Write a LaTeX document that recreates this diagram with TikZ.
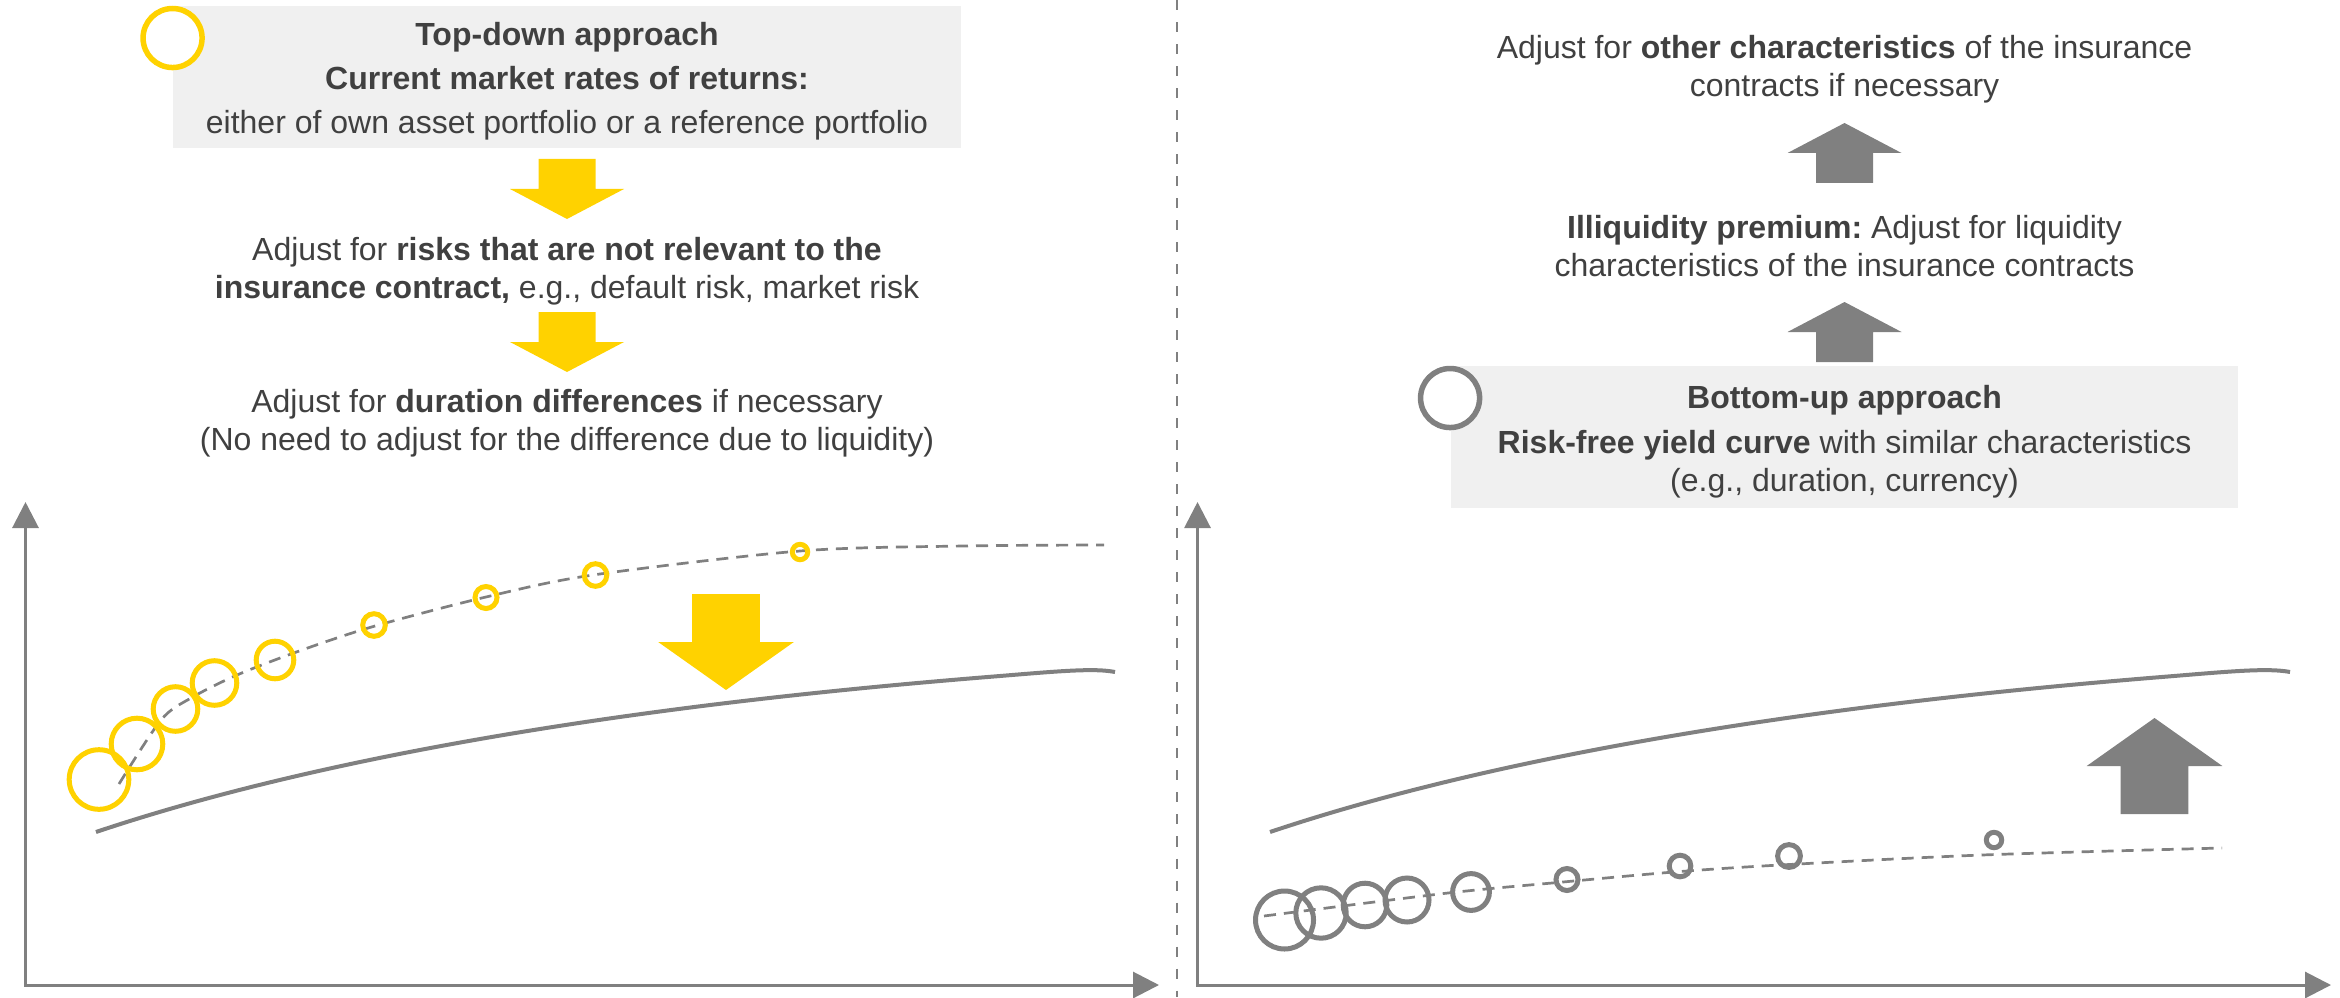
\documentclass[tikz,border=0pt]{standalone}
\usepackage{fontspec}
\setmainfont{Liberation Sans}
\usepackage{tikz}
\usetikzlibrary{arrows.meta}

\definecolor{eyyellow}{HTML}{FFD200}
\definecolor{eygrey}{HTML}{808080}
\definecolor{boxgrey}{HTML}{F0F0F0}
\definecolor{txtgrey}{HTML}{404040}

\tikzset{
  pics/dnarrow/.style={code={
    \fill (-28.5,-30) -- (28.5,-30) -- (28.5,0) -- (57,0) -- (0,30) -- (-57,0) -- (-28.5,0) -- cycle;
  }},
}

\begin{document}
\frenchspacing
\begin{tikzpicture}[x=0.01cm, y=-0.01cm, >={Triangle[length=0.26cm,width=0.26cm]}]
    \tikzstyle{txt} = [align=center, text=txtgrey, inner sep=0pt,
        font=\fontsize{9.1pt}{10.8pt}\selectfont]
    \tikzstyle{block} = [fill=boxgrey, minimum width=7.87cm, minimum height=1.41cm, inner sep=0pt]
    \tikzstyle{ring} = [circle, draw, line width=0.055cm, fill=white, inner sep=0pt,
        minimum size=0.59cm, anchor=north]
    \tikzstyle{bubble} = [line width=0.05cm]
    \tikzstyle{axis} = [draw=eygrey, line width=0.03cm, <->]
    \tikzstyle{curve} = [draw=eygrey, line width=0.04cm]
    \tikzstyle{trend} = [draw=eygrey, line width=0.027cm, dash pattern=on 0.12cm off 0.08cm]

    \useasboundingbox (0,0) rectangle (2340,997);

    % divider
    \draw[eygrey, line width=0.02cm, dash pattern=on 0.1cm off 0.12cm] (1177,0) -- (1177,997);

    % left side: top-down
    \node [block] (tdbox) at (567,77) {};
    \node [txt] (topdown) at (567,81) {\textbf{Top-down approach}\\[0.06cm]
        \textbf{Current market rates of returns:}\\[0.06cm]
        either of own asset portfolio or a reference portfolio};
    \node [ring, draw=eyyellow] (tdring) at (tdbox.north west) {};
    \node [txt] (risks) at (567,271) {Adjust for \textbf{risks that are not relevant to the}\\
        \textbf{insurance contract,} e.g., default risk, market risk};
    \node [txt] (duration) at (567,423) {Adjust for \textbf{duration differences} if necessary\\
        (No need to adjust for the difference due to liquidity)};
    \pic[color=eyyellow] at (567,189) {dnarrow};
    \pic[color=eyyellow] at (567,342) {dnarrow};

    \coordinate (ly) at (25.5,502);
    \coordinate (lx) at (1159,985);
    \draw[axis] (ly) |- (lx);
    \draw[trend] plot[smooth] coordinates {(119,784) (161,720) (191,698) (237,675) (302,650)
        (375,626) (486,597) (593,575) (800,551) (963,546) (1104,545)};
    \draw[curve] (96,832) .. controls (400,730) and (800,692) .. (1000,676)
        .. controls (1060,671) and (1095,668) .. (1115,672);
    \foreach \x/\y/\r in {99/779.5/29.8, 137/744/25.8, 175.5/709/22.3, 214.5/683/22.3,
        275/660/18.8, 374/625/11.3, 486/597.5/11, 595.5/575/11.3, 800/552/7.7}
        \draw[bubble, eyyellow] (\x,\y) circle[radius=\r*0.01cm];
    \pic[color=eyyellow, xscale=1.19, yscale=1.6] at (726,642) {dnarrow};

    % right side: bottom-up
    \node [txt] (other) at (1844.5,69) {Adjust for \textbf{other characteristics} of the insurance\\
        contracts if necessary};
    \node [txt] (illiq) at (1844.5,246) {\textbf{Illiquidity premium:} Adjust for liquidity\\
        characteristics of the insurance contracts};
    \node [block] (bubox) at (1844.5,437) {};
    \node [txt] (bottomup) at (1844.5,442) {\textbf{Bottom-up approach}\\[0.07cm]
        \textbf{Risk-free yield curve} with similar characteristics\\
        (e.g., duration, currency)};
    \node [ring, draw=eygrey] (buring) at (bubox.north west) {};
    \pic[color=eygrey, yscale=-1] at (1844.5,153) {dnarrow};
    \pic[color=eygrey, yscale=-1] at (1844.5,332) {dnarrow};

    \coordinate (ry) at (1197.5,502);
    \coordinate (rx) at (2331,985);
    \draw[axis] (ry) |- (rx);
    \draw[trend] plot[smooth] coordinates {(1264,916) (1448,893) (1563,882) (1674,872)
        (1780,865) (1982,855) (2222,848)};
    \draw[curve] (1270,832) .. controls (1574,730) and (1974,692) .. (2174,676)
        .. controls (2234,671) and (2269,668) .. (2290,672);
    \foreach \x/\y/\r in {1284.5/920/29, 1321/913/25.2, 1365/905/21.8, 1407/900/22,
        1471/892/18.4, 1567/879.5/11, 1680/866/10.8, 1789/856/11.4, 1994/840/7.7}
        \draw[bubble, eygrey] (\x,\y) circle[radius=\r*0.01cm];
    \pic[color=eygrey, xscale=1.19, yscale=-1.6] at (2154.5,766) {dnarrow};
\end{tikzpicture}
\end{document}
